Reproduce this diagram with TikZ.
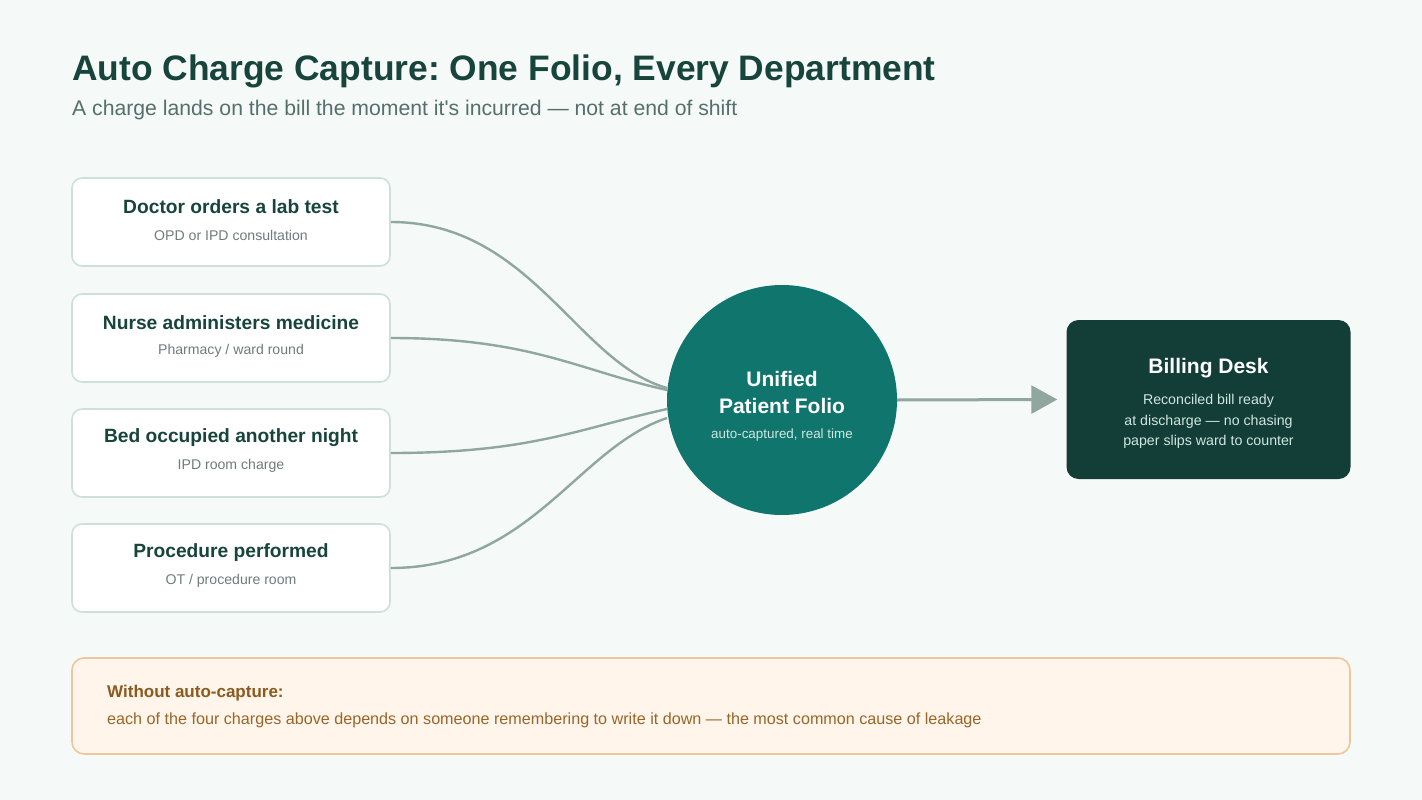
\documentclass[tikz,border=0pt]{standalone}
\usepackage{fontspec}
\setmainfont{Liberation Sans}[Ligatures=TeXOff]
\usetikzlibrary{positioning,arrows.meta}
\frenchspacing

\definecolor{bgc}{HTML}{F5F9F8}
\definecolor{ink}{HTML}{17443B}
\definecolor{subink}{HTML}{557068}
\definecolor{boxline}{HTML}{CFDFDB}
\definecolor{muted}{HTML}{6F7D7A}
\definecolor{wire}{HTML}{8FA79F}
\definecolor{teal}{HTML}{10766D}
\definecolor{deep}{HTML}{133D37}
\definecolor{palet}{HTML}{D0E6E1}
\definecolor{notefill}{HTML}{FFF5EA}
\definecolor{noteline}{HTML}{EDC79B}
\definecolor{noteink}{HTML}{8A5A1F}
\definecolor{notebody}{HTML}{9A6529}

\tikzset{
  event/.style={draw=boxline,line width=1.6pt,fill=white,rounded corners=10pt,
    minimum width=318pt,minimum height=88pt},
  evtitle/.style={font=\fontsize{19.2}{23}\selectfont\bfseries,text=ink},
  evsub/.style={font=\fontsize{14.1}{17}\selectfont,text=muted},
  feed/.style={draw=wire,line width=2.4pt}
}

\begin{document}
\begin{tikzpicture}[x=1pt,y=-1pt]
  \fill[bgc] (0,0) rectangle (1422,800);
  \useasboundingbox (0,0) rectangle (1422,800);

  % heading
  \node[anchor=base west,inner sep=0pt,font=\fontsize{35.4}{40}\selectfont\bfseries,text=ink]
    (title) at (72,81) {Auto Charge Capture: One Folio, Every Department};
  \node[anchor=base west,inner sep=0pt,font=\fontsize{21.2}{25}\selectfont,text=subink]
    (subtitle) at (72,115) {A charge lands on the bill the moment it's incurred — not at end of shift};

  % departments
  \node[event] (doc) at (231,222) {};
  \node[event] (nurse) at (231,338) {};
  \node[event] (bed) at (231,453) {};
  \node[event] (proc) at (231,568) {};
  \foreach \n/\t/\s in {doc/{Doctor orders a lab test}/{OPD or IPD consultation},
      nurse/{Nurse administers medicine}/{Pharmacy / ward round},
      bed/{Bed occupied another night}/{IPD room charge},
      proc/{Procedure performed}/{OT / procedure room}}{
    \node[evtitle] at ([yshift=15pt]\n.center) {\t};
    \node[evsub] at ([yshift=-13pt]\n.center) {\s};
  }

  % folio
  \node[circle,fill=teal,minimum size=230pt,inner sep=0pt] (folio) at (782,400) {};
  \node[font=\fontsize{21}{27}\selectfont\bfseries,text=white,align=center]
    at ([yshift=8pt]folio.center) {Unified\\Patient Folio};
  \node[font=\fontsize{13.4}{16}\selectfont,text=palet] at ([yshift=-35pt]folio.center)
    {auto-captured, real time};

  \coordinate (in1) at (667,388);
  \coordinate (in2) at (667,390);
  \coordinate (in3) at (667,409);
  \coordinate (in4) at (667,418);
  \draw[feed] (doc.east) .. controls +(140,0) and +(-90,-25) .. (in1);
  \draw[feed] (nurse.east) .. controls +(140,0) and +(-90,-20) .. (in2);
  \draw[feed] (bed.east) .. controls +(140,0) and +(-90,20) .. (in3);
  \draw[feed] (proc.east) .. controls +(140,0) and +(-90,30) .. (in4);

  % billing
  \node[fill=deep,rounded corners=12pt,minimum width=284pt,minimum height=159pt]
    (billing) at (1208.5,399.5) {};
  \node[font=\fontsize{21}{25}\selectfont\bfseries,text=white] at ([yshift=31pt]billing.center)
    {Billing Desk};
  \node[font=\fontsize{14.2}{20.5}\selectfont,text=palet,align=center] at ([yshift=-22pt]billing.center)
    {Reconciled bill ready\\at discharge — no chasing\\paper slips ward to counter};

  \draw[wire,line width=3pt,-{Triangle[length=26pt,width=28pt]}] (folio.east) -- ([xshift=-9pt]billing.west);

  % warning note
  \node[draw=noteline,line width=1.6pt,fill=notefill,rounded corners=12pt,
    minimum width=1278pt,minimum height=96pt] (note) at (711,706) {};
  \node[anchor=base west,inner sep=0pt,font=\fontsize{17}{20}\selectfont\bfseries,text=noteink]
    at (107,697) {Without auto-capture:};
  \node[anchor=base west,inner sep=0pt,font=\fontsize{16.15}{19}\selectfont,text=notebody]
    at (107,724) {each of the four charges above depends on someone remembering to write it down — the most common cause of leakage};
\end{tikzpicture}
\end{document}
